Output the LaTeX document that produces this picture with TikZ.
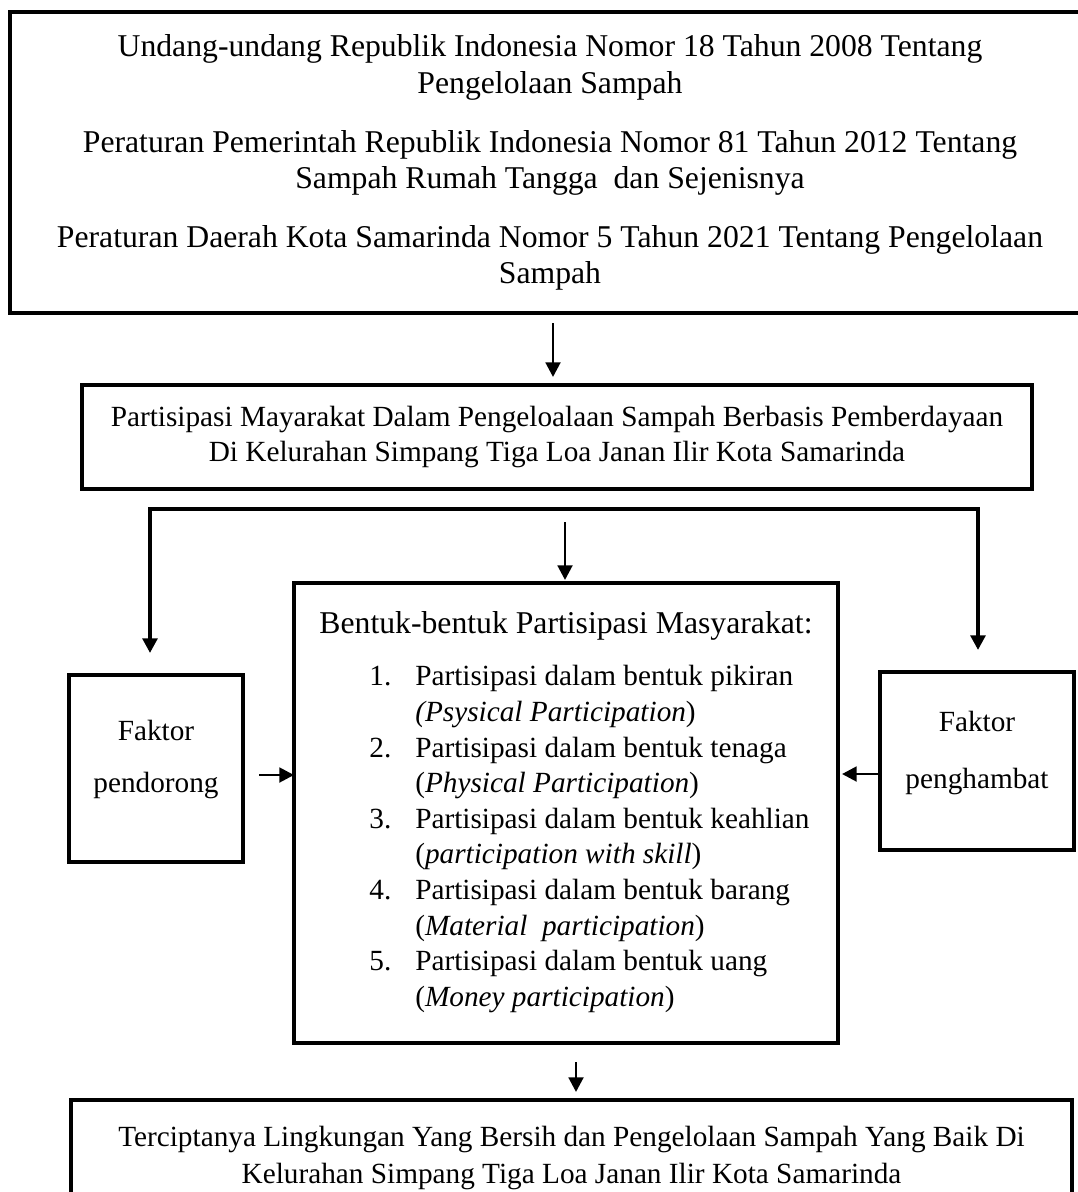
\documentclass[tikz,border=0pt]{standalone}
\usepackage{fontspec}
\setmainfont{Liberation Serif}
\usetikzlibrary{arrows.meta, positioning, calc}
\newcommand{\px}{0.41pt}

\begin{document}
\begin{tikzpicture}[x=0.41pt, y=-0.41pt,
    box/.style={draw, line width=2pt, align=center, inner sep=0pt, outer sep=0pt},
    arr/.style={-{Triangle[length=6pt, width=6pt]}, line width=1.2pt},
    bus/.style={{Triangle[length=6pt, width=6pt]}-{Triangle[length=6pt, width=6pt]},
      line width=1.6pt, line join=miter}]
  \useasboundingbox (0,0) rectangle (1078,1192);

  % dasar hukum
  \node[box, minimum width=1080*\px, minimum height=301*\px,
        font=\fontsize{13}{14.8}\selectfont] (hukum) at (550,162.5)
    {Undang-undang Republik Indonesia Nomor 18 Tahun 2008 Tentang\\
     Pengelolaan Sampah\\[9.4pt]
     Peraturan Pemerintah Republik Indonesia Nomor 81 Tahun 2012 Tentang\\
     Sampah Rumah Tangga\ \ dan Sejenisnya\\[9.4pt]
     Peraturan Daerah Kota Samarinda Nomor 5 Tahun 2021 Tentang Pengelolaan\\
     Sampah};

  % fokus penelitian
  \node[box, minimum width=950*\px, minimum height=104*\px,
        font=\fontsize{12}{14.35}\selectfont] (fokus) at (557,437)
    {Partisipasi Mayarakat Dalam Pengeloalaan Sampah Berbasis Pemberdayaan\\
     Di Kelurahan Simpang Tiga Loa Janan Ilir Kota Samarinda};

  % bentuk partisipasi
  \node[box, minimum width=544*\px, minimum height=460*\px,
        font=\fontsize{12}{14.6}\selectfont] (bentuk) at (566,813)
    {\begin{tabular}{@{\hspace{20.5pt}}l@{\hspace{9.8pt}}l@{}}
       \multicolumn{2}{@{}c@{}}{\fontsize{13}{15}\selectfont Bentuk-bentuk Partisipasi Masyarakat:}\\[6.7pt]
       1. & Partisipasi dalam bentuk pikiran\\
          & \textit{(Psysical Participation})\\
       2. & Partisipasi dalam bentuk tenaga\\
          & (\textit{Physical Participation})\\
       3. & Partisipasi dalam bentuk keahlian\\
          & (\textit{participation with skill})\\
       4. & Partisipasi dalam bentuk barang\\
          & (\textit{Material\ \ participation})\\
       5. & Partisipasi dalam bentuk uang\\
          & (\textit{Money participation})
     \end{tabular}};

  % faktor
  \node[box, minimum width=174*\px, minimum height=187*\px, text depth=10.2pt,
        font=\fontsize{12}{21.2}\selectfont] (pd) at (156,768.5)
    {Faktor\\pendorong};
  \node[box, minimum width=194*\px, minimum height=178*\px, text depth=9pt,
        font=\fontsize{12}{23.2}\selectfont] (ph) at (977,761)
    {Faktor\\penghambat};

  % hasil
  \node[box, minimum width=1001*\px, minimum height=116*\px,
        font=\fontsize{12}{15.2}\selectfont] (hasil) at (571.5,1158)
    {Terciptanya Lingkungan Yang Bersih dan Pengelolaan Sampah Yang Baik Di\\
     Kelurahan Simpang Tiga Loa Janan Ilir Kota Samarinda};

  \coordinate (busL) at (150,509);
  \coordinate (busR) at (978,509);
  \coordinate (pusat) at (565,522);

  \draw[arr, shorten <=10*\px, shorten >=8*\px]
    ([xshift=3*\px]hukum.south) -- ([xshift=3*\px]hukum.south |- fokus.north);
  \draw[bus, shorten <=22*\px, shorten >=22*\px]
    (ph.north -| busR) -- (busR) -- (busL) -- (pd.north -| busL);
  \draw[arr, shorten >=3*\px] (pusat) -- (pusat |- bentuk.north);
  \draw[arr, shorten <=16*\px]
    ([yshift=-6.5*\px]pd.east) -- ([yshift=-6.5*\px]pd.east -| bentuk.west);
  \draw[arr, shorten >=4*\px]
    ([yshift=-13*\px]ph.west) -- ([yshift=-13*\px]ph.west -| bentuk.east);
  \draw[arr, shorten <=19*\px, shorten >=8*\px]
    ([xshift=10*\px]bentuk.south) -- ([xshift=10*\px]bentuk.south |- hasil.north);
\end{tikzpicture}
\end{document}
